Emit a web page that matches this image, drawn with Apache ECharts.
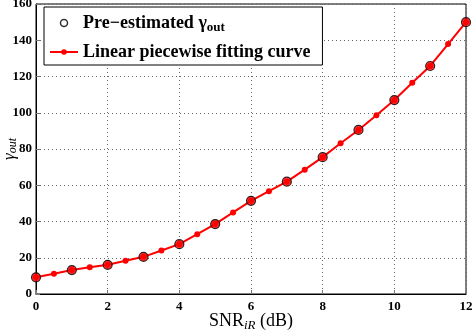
<!DOCTYPE html>
<html>
<head>
<meta charset="utf-8">
<script src="https://cdn.jsdelivr.net/npm/echarts@6/dist/echarts.min.js"></script>
<style>
html, body { margin: 0; padding: 0; background: #fff; }
#chart { width: 472px; height: 332px; }
</style>
</head>
<body>
<div id="chart"></div>
<script>
// SNR_iR (dB) for the fitted curve, every 0.5 dB
const snrFit = [0, 0.5, 1, 1.5, 2, 2.5, 3, 3.5, 4, 4.5, 5, 5.5, 6, 6.5, 7, 7.5, 8, 8.5, 9, 9.5, 10, 10.5, 11, 11.5, 12];
const gammaFit = [9.2, 11.2, 13.2, 14.7, 16.1, 18.3, 20.5, 24.0, 27.5, 33.0, 38.6, 45.0, 51.4, 56.7, 62.0, 68.6, 75.5, 83.2, 90.5, 98.6, 107.0, 116.6, 125.8, 137.9, 150.0];

// pre-estimated points, integer dB
const snrEst = [0, 1, 2, 3, 4, 5, 6, 7, 8, 9, 10, 11, 12];
const gammaEst = [9.2, 13.2, 16.1, 20.5, 27.5, 38.6, 51.4, 62.0, 75.5, 90.5, 107.0, 125.8, 150.0];

const xTicks = [0, 2, 4, 6, 8, 10, 12];
const yTicks = [0, 20, 40, 60, 80, 100, 120, 140, 160];

const serif = '"Liberation Serif", "DejaVu Serif", serif';

const chart = echarts.init(document.getElementById('chart'));

const axisCommon = {
    axisLine: { show: true, lineStyle: { color: '#000', width: 1 } },
    axisTick: { show: true, inside: true, length: 4, lineStyle: { color: '#777' } },
    axisLabel: { color: '#000', fontFamily: serif, fontWeight: 'bold', fontSize: 13 },
    splitLine: { show: true, lineStyle: { color: '#666', type: [1, 3], width: 1 } }
};

chart.setOption({
    animation: false,
    grid: {
        left: 36, right: 6, top: 4, bottom: 38,
        outerBoundsMode: 'none',
        containLabel: false,
        show: true, borderColor: '#000', borderWidth: 1
    },
    legend: {
        orient: 'vertical',
        left: 44,
        top: 7,
        padding: [7, 12, 4, 5],
        itemGap: 9,
        itemWidth: 28,
        itemHeight: 7,
        backgroundColor: '#fff',
        borderColor: '#000',
        borderWidth: 1,
        textStyle: {
            color: '#000', fontFamily: serif, fontWeight: 'bold', fontSize: 18,
            rich: {
                sub: { fontFamily: serif, fontWeight: 'bold', fontSize: 13, verticalAlign: 'bottom', padding: [9, 0, 0, 0] },
                g: { fontFamily: serif, fontSize: 18 }
            }
        },
        formatter: name => name === 'est' ? 'Pre\u2212estimated {g|\u03b3}{sub|out}' : 'Linear piecewise fitting curve',
        data: [
            { name: 'est', icon: 'circle', itemStyle: { color: 'rgba(0,0,0,0)', borderColor: '#000', borderWidth: 1.5 } },
            { name: 'fit' }
        ]
    },
    xAxis: Object.assign({}, axisCommon, {
        type: 'value',
        min: 0, max: 12, interval: 2,
        name: 'SNR{i|iR} (dB)',
        nameLocation: 'middle',
        nameGap: 17,
        nameMoveOverlap: false,
        nameTextStyle: {
            color: '#000', fontFamily: serif, fontSize: 18, verticalAlign: 'top',
            rich: { i: { fontFamily: serif, fontStyle: 'italic', fontSize: 13, verticalAlign: 'bottom', padding: [8, 0, 0, 0] } }
        },
        axisLabel: Object.assign({}, axisCommon.axisLabel, {
            margin: 6,
            customValues: xTicks
        })
    }),
    yAxis: Object.assign({}, axisCommon, {
        type: 'value',
        min: 0, max: 160, interval: 20,
        name: '{g|\u03b3}{s|out}',
        nameLocation: 'middle',
        nameGap: 17,
        nameRotate: 90,
        nameMoveOverlap: false,
        nameTextStyle: {
            color: '#000', fontFamily: serif, fontSize: 17,
            rich: {
                g: { fontFamily: serif, fontStyle: 'italic', fontSize: 17 },
                s: { fontFamily: serif, fontStyle: 'italic', fontSize: 12, verticalAlign: 'bottom', padding: [7, 0, 0, 0] }
            }
        },
        axisLabel: Object.assign({}, axisCommon.axisLabel, {
            margin: 4,
            customValues: yTicks
        })
    }),
    series: [
        {
            name: 'fit',
            type: 'line',
            data: snrFit.map((x, i) => [x, gammaFit[i]]),
            symbol: 'circle',
            symbolSize: 6,
            itemStyle: { color: '#ff0000' },
            lineStyle: { color: '#ff0000', width: 2 },
            z: 2
        },
        {
            name: 'est',
            type: 'scatter',
            data: snrEst.map((x, i) => [x, gammaEst[i]]),
            symbol: 'circle',
            symbolSize: 9,
            itemStyle: { color: '#ff0000', borderColor: '#000', borderWidth: 1.2 },
            z: 3
        }
    ]
});
</script>
</body>
</html>
